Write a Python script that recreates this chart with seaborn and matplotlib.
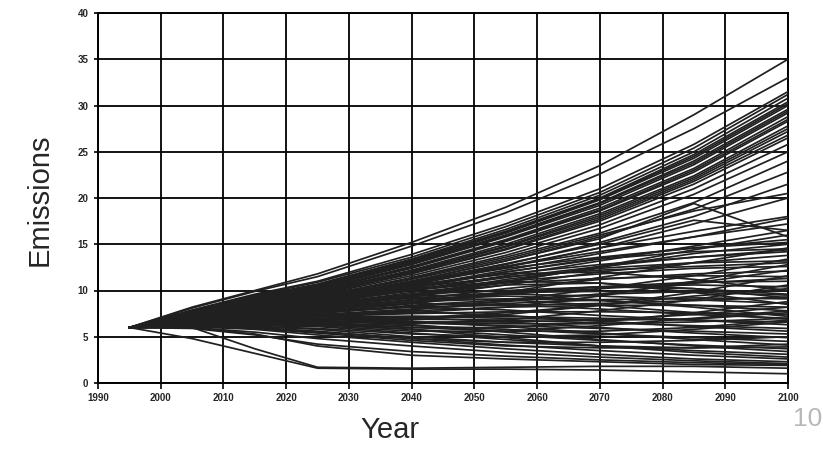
import matplotlib
matplotlib.use("Agg")
import matplotlib.pyplot as plt
import seaborn as sns
import pandas as pd

years = [1995, 2005, 2015, 2025, 2040, 2055, 2070, 2085, 2100]

# upper, fast-growing scenarios
high_scenarios = [
    [6.0, 8.2, 10.0, 11.8, 15.2, 19.0, 23.5, 29.0, 35.0],
    [6.0, 8.1, 9.9, 11.5, 14.8, 18.4, 22.6, 27.5, 33.0],
    [6.0, 7.9, 9.6, 11.0, 13.9, 17.2, 21.0, 25.8, 31.5],
    [6.0, 7.8, 9.5, 10.9, 13.6, 16.9, 20.6, 25.4, 31.2],
    [6.0, 7.8, 9.4, 10.7, 13.4, 16.6, 20.3, 25.0, 30.8],
    [6.0, 7.7, 9.3, 10.6, 13.3, 16.4, 20.0, 24.7, 30.4],
    [6.0, 7.7, 9.2, 10.6, 13.2, 16.3, 19.9, 24.5, 30.2],
    [6.0, 7.7, 9.2, 10.5, 13.1, 16.2, 19.8, 24.3, 30.0],
    [6.0, 7.6, 9.1, 10.4, 13.0, 16.0, 19.5, 24.0, 29.6],
    [6.0, 7.6, 9.0, 10.3, 12.9, 15.9, 19.4, 23.8, 29.4],
    [6.0, 7.6, 9.0, 10.2, 12.8, 15.8, 19.2, 23.6, 29.2],
    [6.0, 7.5, 8.9, 10.1, 12.6, 15.5, 18.9, 23.2, 28.8],
    [6.0, 7.5, 8.9, 10.0, 12.5, 15.4, 18.7, 23.0, 28.5],
    [6.0, 7.5, 8.8, 10.0, 12.4, 15.3, 18.6, 22.8, 28.3],
    [6.0, 7.4, 8.7, 9.9, 12.2, 15.0, 18.3, 22.4, 27.8],
    [6.0, 7.4, 8.7, 9.8, 12.1, 14.8, 18.1, 22.2, 27.5],
    [6.0, 7.4, 8.6, 9.7, 12.0, 14.7, 17.9, 22.0, 27.2],
    [6.0, 7.3, 8.5, 9.6, 11.9, 14.5, 17.7, 21.8, 26.8],
    [6.0, 7.3, 8.5, 9.6, 11.8, 14.4, 17.5, 21.5, 26.5],
    [6.0, 7.3, 8.4, 9.5, 11.6, 14.1, 17.1, 21.0, 25.8],
    [6.0, 7.2, 8.3, 9.3, 11.4, 13.8, 16.7, 20.4, 25.0],
    [6.0, 7.3, 8.4, 9.4, 11.3, 13.6, 16.2, 19.5, 24.0],
    [6.0, 7.2, 8.2, 9.2, 11.0, 13.2, 15.8, 18.8, 22.8],
    [6.0, 7.1, 8.1, 9.0, 10.8, 12.8, 15.2, 18.0, 21.5],
    [6.0, 7.2, 8.3, 9.3, 11.2, 13.4, 16.0, 18.6, 20.5],
    [6.0, 7.0, 8.0, 8.9, 10.6, 12.5, 14.6, 17.2, 20.0],
    [6.0, 7.1, 8.1, 9.1, 11.0, 13.2, 15.6, 19.4, 15.8],
    [6.0, 7.0, 8.0, 8.9, 10.7, 12.6, 14.6, 16.4, 18.0],
    [6.0, 7.1, 8.2, 9.1, 10.9, 12.9, 15.0, 17.6, 16.5],
]

# middle and low scenarios
low_scenarios = [
    [6.0, 7.0, 7.9, 8.8, 10.4, 12.2, 14.0, 15.8, 17.8],
    [6.0, 7.0, 7.8, 8.6, 10.0, 11.6, 13.2, 14.8, 16.5],
    [6.0, 6.9, 7.6, 8.2, 9.4, 10.9, 12.6, 14.4, 16.0],
    [6.0, 6.9, 7.7, 8.5, 10.2, 12.0, 13.5, 14.6, 15.5],
    [6.0, 6.9, 7.6, 8.3, 9.6, 11.0, 12.5, 14.0, 15.0],
    [6.0, 6.6, 7.1, 7.6, 8.6, 9.8, 11.4, 13.0, 14.6],
    [6.0, 7.1, 8.0, 8.9, 10.5, 11.8, 12.8, 13.6, 14.2],
    [6.0, 6.8, 7.5, 8.1, 9.3, 10.6, 12.0, 13.0, 13.8],
    [6.0, 6.5, 6.9, 7.2, 7.9, 8.9, 10.2, 11.6, 13.4],
    [6.0, 6.8, 7.4, 8.0, 9.5, 11.2, 12.4, 13.0, 13.2],
    [6.0, 7.0, 7.9, 8.7, 10.3, 11.5, 12.2, 12.6, 13.0],
    [6.0, 7.0, 7.9, 8.7, 10.0, 11.0, 11.8, 12.4, 12.6],
    [6.0, 6.7, 7.3, 7.9, 9.0, 10.2, 11.2, 11.8, 12.1],
    [6.0, 6.9, 7.6, 8.4, 9.8, 10.8, 11.3, 11.6, 11.5],
    [6.0, 6.8, 7.5, 8.1, 9.0, 9.6, 10.2, 10.8, 11.3],
    [6.0, 6.7, 7.2, 7.7, 8.6, 9.6, 10.4, 10.9, 11.0],
    [6.0, 7.0, 7.8, 8.6, 9.6, 10.0, 10.4, 10.6, 10.4],
    [6.0, 6.4, 6.7, 6.8, 7.0, 7.6, 8.4, 9.4, 10.2],
    [6.0, 6.6, 7.1, 7.5, 8.4, 9.0, 9.6, 9.9, 10.0],
    [6.0, 6.8, 7.5, 8.2, 9.2, 9.8, 9.9, 9.8, 9.5],
    [6.0, 6.7, 7.2, 7.6, 8.2, 8.4, 8.6, 8.9, 9.3],
    [6.0, 6.6, 7.0, 7.4, 8.0, 8.6, 9.0, 9.2, 9.1],
    [6.0, 6.9, 7.7, 8.5, 9.4, 9.6, 9.4, 9.0, 8.6],
    [6.0, 6.6, 7.0, 7.3, 7.8, 8.2, 8.4, 8.4, 8.2],
    [6.0, 6.7, 7.3, 7.9, 8.8, 9.1, 8.9, 8.4, 7.8],
    [6.0, 6.3, 6.3, 6.2, 5.6, 5.6, 6.2, 7.0, 7.8],
    [6.0, 6.6, 7.0, 7.2, 7.2, 7.0, 6.8, 6.9, 7.6],
    [6.0, 6.5, 6.9, 7.2, 7.5, 7.7, 7.7, 7.6, 7.4],
    [6.0, 6.8, 7.4, 8.0, 8.6, 8.5, 8.0, 7.4, 7.0],
    [6.0, 6.5, 6.8, 6.9, 6.6, 6.4, 6.4, 6.6, 7.0],
    [6.0, 6.9, 7.7, 8.4, 9.2, 9.0, 8.4, 7.6, 6.9],
    [6.0, 6.5, 6.8, 7.0, 7.2, 7.2, 7.0, 6.8, 6.6],
    [6.0, 6.7, 7.2, 7.7, 8.2, 7.9, 7.3, 6.8, 6.3],
    [6.0, 6.4, 6.7, 6.9, 6.9, 6.8, 6.5, 6.2, 5.9],
    [6.0, 6.6, 7.0, 7.4, 7.7, 7.3, 6.7, 6.1, 5.6],
    [6.0, 6.4, 6.6, 6.7, 6.5, 6.2, 5.9, 5.6, 5.3],
    [6.0, 6.5, 6.9, 7.2, 7.1, 6.6, 6.0, 5.4, 4.9],
    [6.0, 6.3, 6.5, 6.5, 6.2, 5.8, 5.3, 4.9, 4.5],
    [6.0, 6.1, 5.9, 5.4, 4.6, 4.0, 3.8, 3.8, 4.2],
    [6.0, 6.5, 6.8, 7.0, 6.7, 6.1, 5.4, 4.7, 4.1],
    [6.0, 6.2, 6.1, 5.8, 5.0, 4.4, 4.0, 3.8, 3.9],
    [6.0, 6.3, 6.4, 6.3, 5.8, 5.2, 4.6, 4.1, 3.7],
    [6.0, 6.4, 6.6, 6.8, 6.3, 5.5, 4.7, 4.0, 3.4],
    [6.0, 6.2, 6.2, 6.1, 5.4, 4.7, 4.0, 3.5, 3.1],
    [6.0, 6.3, 6.4, 6.4, 5.8, 4.9, 4.0, 3.3, 2.8],
    [6.0, 6.2, 6.0, 5.6, 4.8, 4.1, 3.5, 3.0, 2.6],
    [6.0, 6.1, 5.8, 5.2, 4.4, 3.7, 3.1, 2.6, 2.3],
    [6.0, 6.0, 5.5, 4.8, 4.0, 3.3, 2.8, 2.4, 2.1],
    [6.0, 5.9, 5.2, 4.2, 3.4, 2.9, 2.5, 2.2, 2.0],
    [6.0, 6.0, 5.3, 4.0, 3.0, 2.6, 2.3, 2.0, 1.9],
    [6.0, 6.0, 3.7, 1.7, 1.6, 1.7, 1.8, 1.8, 1.6],
    [6.0, 4.8, 3.2, 1.6, 1.5, 1.5, 1.4, 1.2, 1.0],
    [6.0, 7.1, 8.1, 9.0, 10.6, 11.8, 12.0, 11.2, 10.0],
    [6.0, 7.0, 7.9, 8.8, 10.2, 11.0, 10.8, 9.8, 8.5],
    [6.0, 6.6, 7.0, 7.3, 7.6, 8.2, 9.4, 11.0, 12.8],
    [6.0, 6.5, 6.8, 7.0, 7.0, 7.4, 8.4, 9.8, 11.6],
    [6.0, 6.4, 6.6, 6.6, 6.4, 6.8, 7.8, 9.0, 10.6],
    [6.0, 6.9, 7.6, 8.3, 9.6, 10.6, 10.8, 10.2, 9.2],
    [6.0, 6.3, 6.4, 6.4, 6.0, 6.0, 6.6, 7.6, 8.8],
    [6.0, 6.7, 7.3, 7.8, 8.8, 9.8, 10.4, 10.2, 9.6],
    [6.0, 7.1, 8.0, 8.9, 10.4, 12.0, 13.4, 14.2, 14.5],
    [6.0, 7.0, 7.8, 8.6, 10.0, 11.4, 12.6, 13.6, 14.4],
    [6.0, 6.6, 7.1, 7.6, 8.3, 8.8, 9.6, 10.8, 12.2],
    [6.0, 6.2, 6.1, 5.9, 5.3, 5.0, 5.2, 5.8, 6.6],
    [6.0, 6.4, 6.5, 6.5, 6.0, 5.6, 5.6, 6.0, 6.8],
    [6.0, 6.8, 7.4, 8.0, 9.0, 9.4, 9.0, 8.2, 7.2],
    [6.0, 6.3, 6.5, 6.6, 6.6, 6.6, 6.8, 7.4, 8.2],
    [6.0, 6.1, 5.9, 5.5, 4.8, 4.4, 4.4, 4.6, 5.0],
    [6.0, 7.2, 8.2, 9.1, 10.8, 12.4, 13.6, 14.6, 15.2],
    [6.0, 7.2, 8.3, 9.2, 11.0, 12.6, 14.2, 15.8, 17.2],
]

x_ticks = list(range(1990, 2101, 10))
y_ticks = list(range(0, 41, 5))

rows = []
for i, vals in enumerate(high_scenarios + low_scenarios):
    for yr, v in zip(years, vals):
        rows.append({"scenario": i, "Year": yr, "Emissions": v})
df = pd.DataFrame(rows)

sns.set_style("white")
plt.rcParams["font.family"] = ["Liberation Sans", "DejaVu Sans"]

fig = plt.figure(figsize=(8.23, 4.51), dpi=100)
ax = fig.add_axes([98 / 823, 1 - 383 / 451, 690 / 823, 370 / 451])

sns.lineplot(data=df, x="Year", y="Emissions", units="scenario",
             estimator=None, color="#202020", linewidth=1.25, ax=ax,
             legend=False, zorder=3)

ax.set_xlim(1990, 2100)
ax.set_ylim(0, 40)
ax.set_xticks(x_ticks)
ax.set_yticks(y_ticks)
ax.set_xticklabels([str(t) for t in x_ticks], fontsize=7, fontweight="bold")
ax.set_yticklabels([str(t) for t in y_ticks], fontsize=7, fontweight="bold")
ax.tick_params(axis="x", length=4, width=1.2, color="black", pad=3,
               direction="out", bottom=True)
ax.tick_params(axis="y", length=3, width=1.2, color="black", pad=4,
               direction="out", left=True)
ax.grid(True, color="black", linewidth=1.3, zorder=1)
ax.set_axisbelow(True)
for s in ax.spines.values():
    s.set_visible(True)
    s.set_color("black")
    s.set_linewidth(1.4)

ax.set_xlabel("")
ax.set_ylabel("")
fig.text(40 / 823, 1 - 200 / 451, "Emissions", rotation=90, fontsize=21,
         ha="center", va="center")
fig.text(390 / 823, 1 - 430 / 451, "Year", fontsize=21,
         ha="center", va="center")
fig.text(793 / 823, 1 - 426 / 451, "10", fontsize=19, color="#b8b8b8",
         ha="left", va="baseline")

fig.savefig("out.png", dpi=100)
